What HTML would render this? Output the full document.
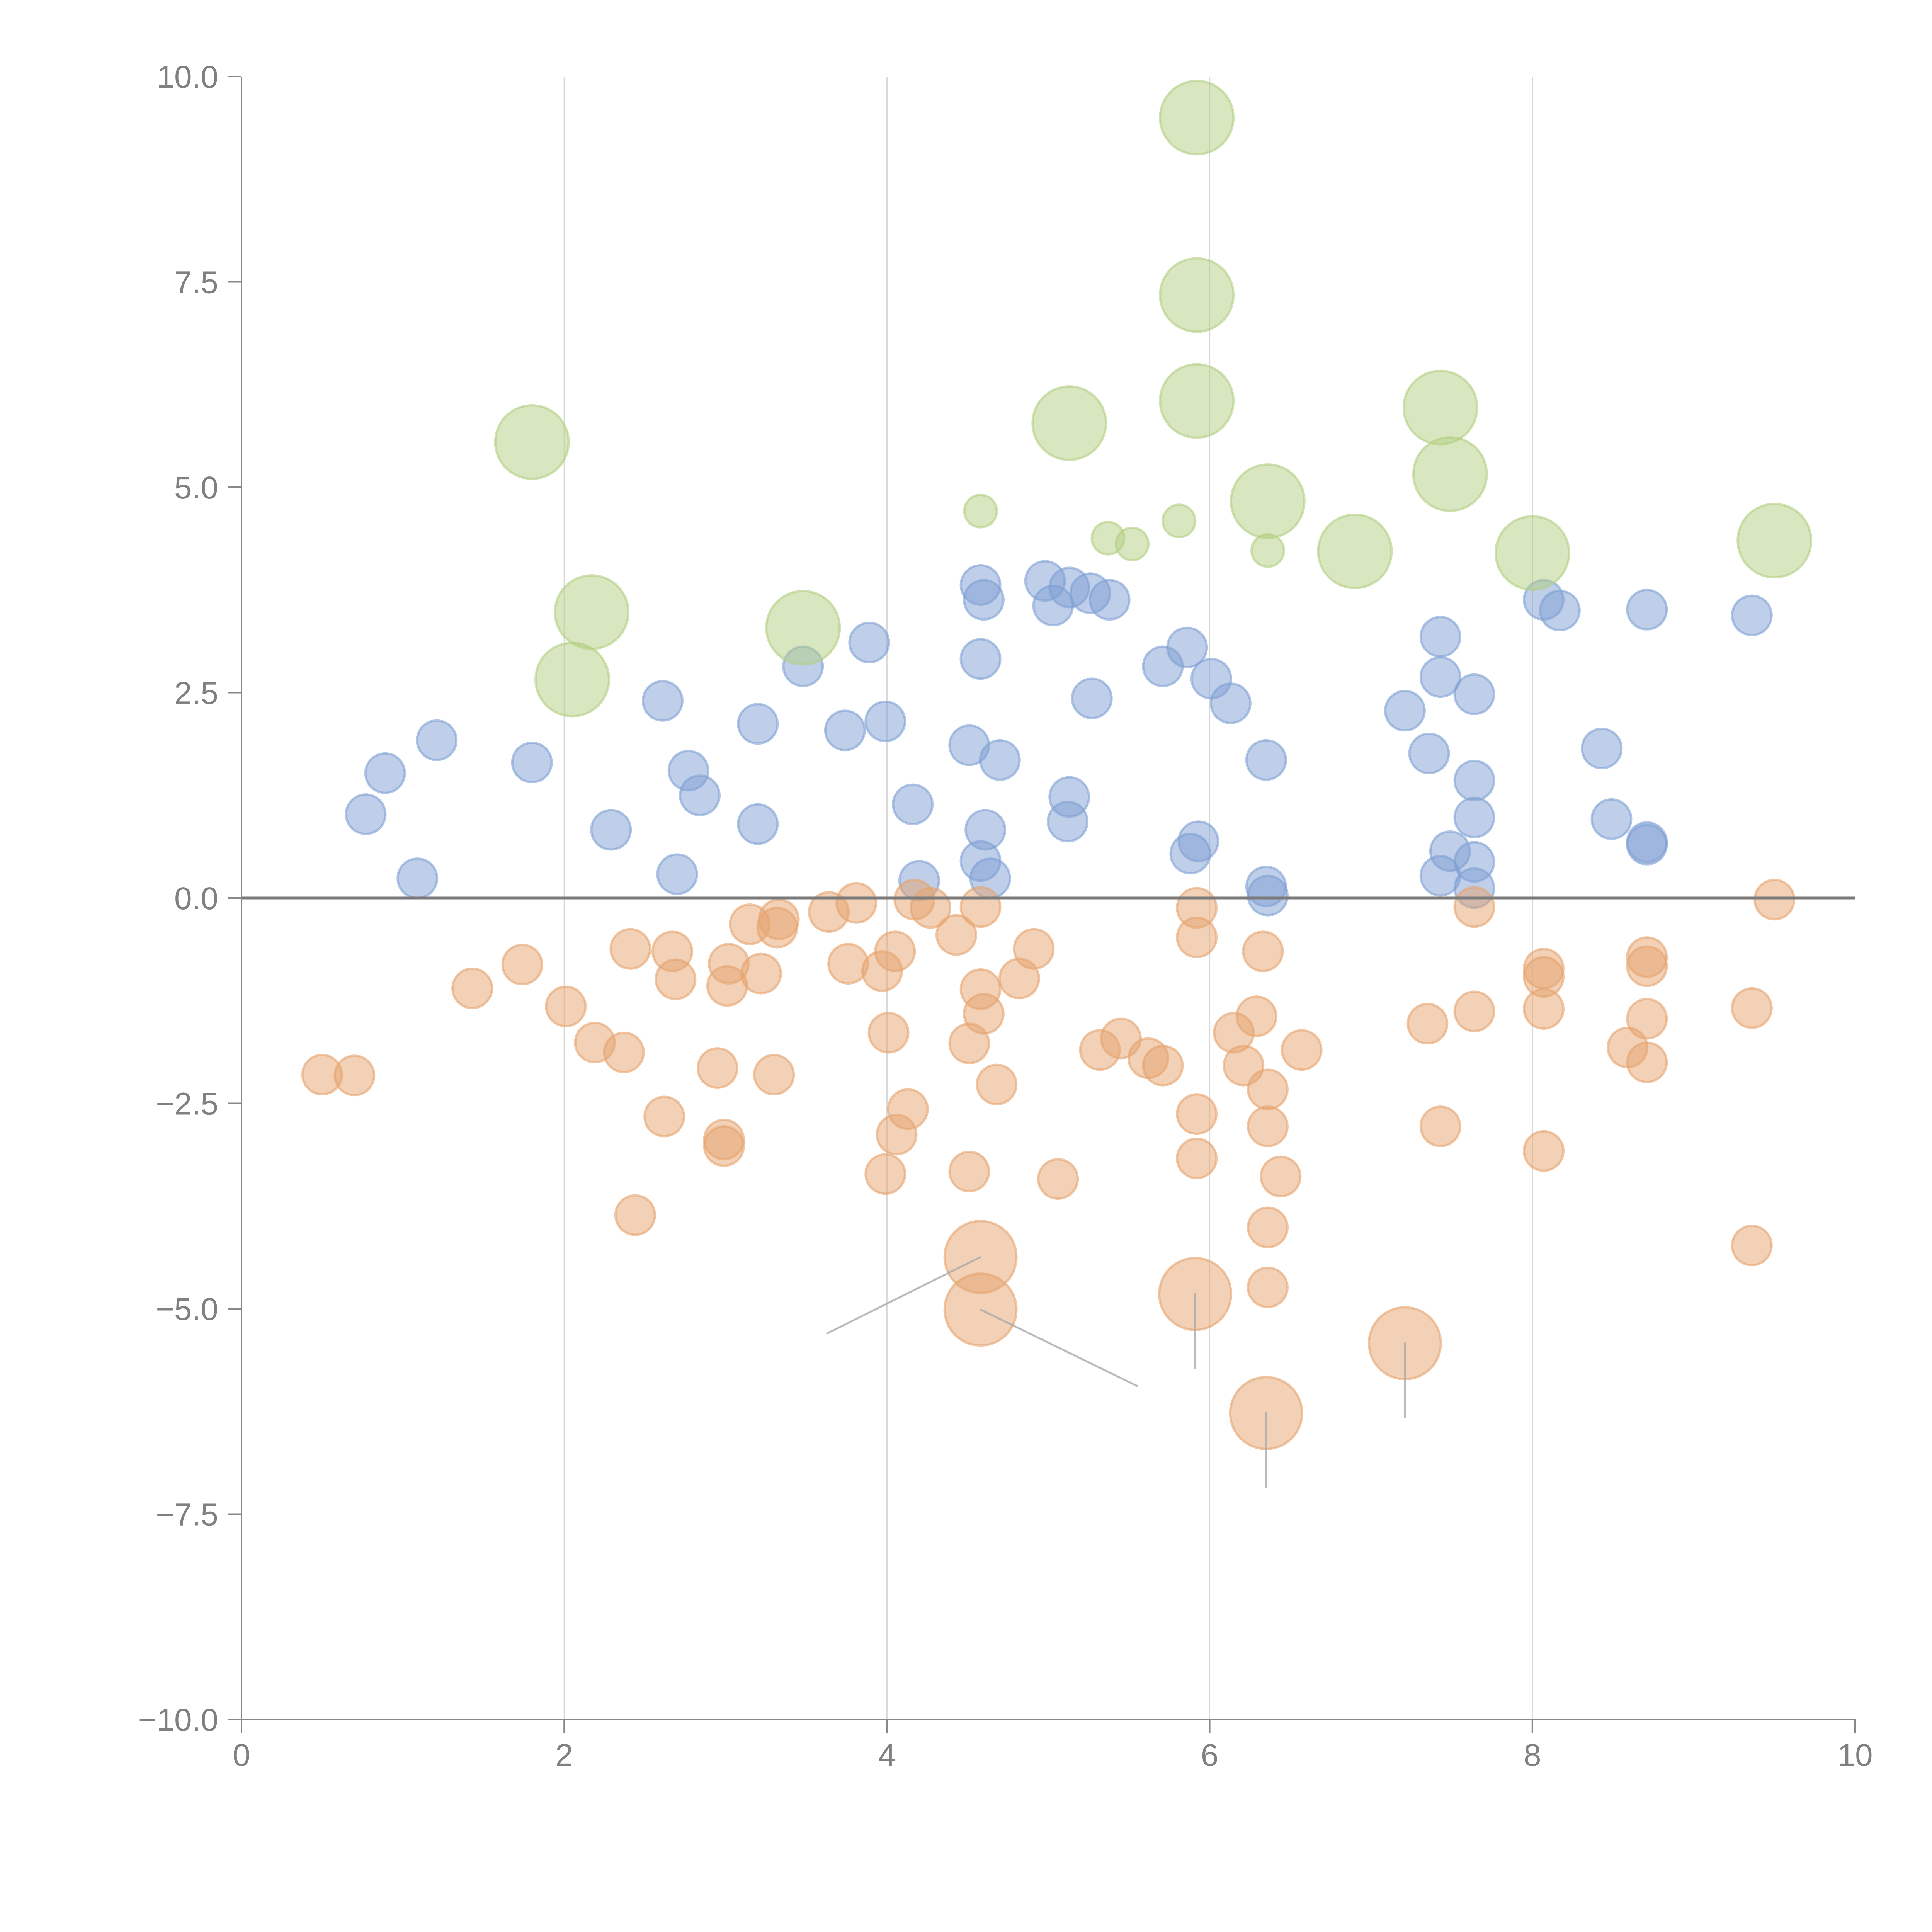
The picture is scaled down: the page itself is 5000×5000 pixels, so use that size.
<!DOCTYPE html>
<html><head><meta charset="utf-8"><style>
html,body{margin:0;padding:0;background:#fff;width:5000px;height:5000px;overflow:hidden}
svg{display:block}
text{font-family:"Liberation Sans",sans-serif;fill:#808080}
</style></head><body>
<svg id="chart" width="5000" height="5000" viewBox="0 0 5000 5000" xmlns="http://www.w3.org/2000/svg">
<g id="grid"></g>
<g id="marks"></g>
<g id="leaders"></g>
<g id="axes"></g>
</svg>
<script>
const xTicks=[0,2,4,6,8,10];
const xTickLabels=["0","2","4","6","8","10"];
const yTicks=[10,7.5,5,2.5,0,-2.5,-5,-7.5,-10];
const yTickLabels=["10.0","7.5","5.0","2.5","0.0","\u22122.5","\u22125.0","\u22127.5","\u221210.0"];
const blueX=[0.77,0.89,1.09,1.21,1.80,2.29,2.61,2.70,2.77,2.84,3.20,3.20,3.48,3.74,3.89,3.99,4.16,4.20,4.51,4.58,4.60,4.58,4.70,4.61,4.58,4.64,4.98,5.03,5.13,5.26,5.38,5.27,5.13,5.12,5.71,5.86,6.01,6.13,5.93,5.88,6.35,6.35,6.36,7.21,7.36,7.43,7.43,7.64,7.64,7.64,7.49,7.43,7.64,7.64,8.07,8.17,8.43,8.49,8.71,8.71,8.71,9.36];
const blueY=[1.02,1.52,0.24,1.92,1.65,0.83,2.40,0.29,1.55,1.25,2.12,0.90,2.82,2.04,3.11,2.15,1.14,0.21,1.86,3.81,3.63,2.91,1.68,0.83,0.45,0.24,3.86,3.56,3.78,3.71,3.63,2.43,1.23,0.93,2.82,3.05,2.67,2.37,0.69,0.54,1.68,0.14,0.03,2.28,1.76,3.18,2.69,2.48,1.43,0.98,0.57,0.27,0.44,0.12,3.63,3.50,1.82,0.96,3.51,0.68,0.65,3.44];
const orangeX=[0.50,0.70,1.43,1.74,2.01,2.19,2.37,2.41,2.44,2.62,2.67,2.69,2.95,2.99,2.99,3.02,3.01,3.15,3.22,3.30,3.33,3.32,3.64,3.81,3.76,3.97,4.05,4.01,4.13,4.06,3.99,4.17,4.27,4.43,4.58,4.58,4.60,4.51,4.68,4.51,4.82,4.91,5.06,5.32,5.45,5.62,5.71,5.92,5.92,5.92,5.92,6.33,6.29,6.15,6.21,6.36,6.36,6.44,6.36,6.36,6.57,7.35,7.43,7.64,7.64,8.07,8.07,8.07,8.07,8.59,8.71,8.71,8.71,8.71,9.36,9.36,9.50];
const orangeY=[-2.15,-2.16,-1.10,-0.81,-1.32,-1.76,-1.88,-0.62,-3.86,-2.66,-0.65,-0.99,-2.07,-2.94,-3.02,-0.80,-1.07,-0.32,-0.92,-2.15,-0.26,-0.36,-0.17,-0.06,-0.80,-0.89,-0.65,-1.64,-2.57,-2.88,-3.36,-0.02,-0.12,-0.45,-0.11,-1.11,-1.41,-1.77,-2.27,-3.33,-0.98,-0.62,-3.42,-1.85,-1.71,-1.95,-2.04,-0.12,-0.48,-2.63,-3.17,-0.65,-1.44,-1.64,-2.04,-2.33,-2.78,-3.39,-4.01,-4.74,-1.85,-1.53,-2.78,-0.11,-1.38,-0.86,-0.96,-1.35,-3.08,-1.82,-0.72,-0.83,-1.47,-2.00,-1.34,-4.23,-0.02];
const orangeBigX=[4.58,4.58,5.91,7.21,6.35];
const orangeBigY=[-4.37,-5.01,-4.82,-5.42,-6.27];
const greenX=[4.58,5.37,5.52,5.81,6.36];
const greenY=[4.71,4.38,4.31,4.59,4.23];
const greenBigX=[5.92,5.92,5.92,1.80,5.13,7.43,7.49,6.36,6.90,8.00,9.50,2.17,3.48,2.05];
const greenBigY=[9.50,7.34,6.05,5.55,5.78,5.97,5.16,4.83,4.22,4.20,4.35,3.48,3.29,2.66];
const leaderDX=[-0.95,0.97,0,0,0];
const leaderDY=[-0.93,-0.93,-0.9,-0.9,-0.9];

const X0=625,X1=4801,Y0=198,Y1=4450;
const sx=v=>X0+(v-0)/(10-0)*(X1-X0);
const sy=v=>Y0+(10-v)/20*(Y1-Y0);
const NS="http://www.w3.org/2000/svg";
function mk(tag,parent,attrs){const e=document.createElementNS(NS,tag);for(const k in attrs)e.setAttribute(k,attrs[k]);parent.appendChild(e);return e;}
const grid=document.getElementById('grid'),marks=document.getElementById('marks'),axes=document.getElementById('axes'),leaders=document.getElementById('leaders');

[2,4,6,8].forEach(v=>{
  const l=mk('line',grid,{x1:sx(v),x2:sx(v),y1:Y0,y2:Y1,stroke:'#d8d8d8','stroke-width':3});
  
  
});

function dots(xs,ys,r,fill,stroke,name){
  xs.forEach((x,i)=>{
    const c=mk('circle',marks,{cx:sx(x),cy:sy(ys[i]),r:r,fill:fill,'fill-opacity':0.5,stroke:stroke,'stroke-opacity':0.6,'stroke-width':6});
    
    
  });
}
dots(blueX,blueY,51,'#7fa0d4','#7fa0d4','blue-point');
dots(orangeX,orangeY,51,'#e6a36e','#e6a36e','orange-point');
dots(greenX,greenY,42,'#b3cf82','#b3cf82','green-point');
dots(greenBigX,greenBigY,95,'#b3cf82','#b3cf82','green-bubble');
dots(orangeBigX,orangeBigY,93,'#e6a36e','#e6a36e','orange-bubble');

orangeBigX.forEach((x,i)=>{
  const y=orangeBigY[i];
  const l=mk('line',leaders,{x1:sx(x),y1:sy(y),x2:sx(x+leaderDX[i]),y2:sy(y+leaderDY[i]),stroke:'#aaaaaa','stroke-opacity':0.8,'stroke-width':5,'stroke-linecap':'round'});
  
  
});

const z=mk('line',axes,{x1:X0,x2:X1,y1:sy(0),y2:sy(0),stroke:'#7a7a7a','stroke-width':7});


const ya=mk('line',axes,{x1:X0,x2:X0,y1:Y0,y2:Y1,stroke:'#888','stroke-width':4});


const xa=mk('line',axes,{x1:X0,x2:X1,y1:Y1,y2:Y1,stroke:'#888','stroke-width':4});



yTicks.forEach((v,i)=>{
  const t=mk('line',axes,{x1:X0-34,x2:X0,y1:sy(v),y2:sy(v),stroke:'#888','stroke-width':4});
  
  
  const tx=mk('text',axes,{x:X0-60,y:sy(v)+29,'text-anchor':'end','font-size':82});
  tx.textContent=yTickLabels[i];
  
  
});
xTicks.forEach((v,i)=>{
  const t=mk('line',axes,{x1:sx(v),x2:sx(v),y1:Y1,y2:Y1+34,stroke:'#888','stroke-width':4});
  
  
  const tx=mk('text',axes,{x:sx(v),y:Y1+120,'text-anchor':'middle','font-size':82});
  tx.textContent=xTickLabels[i];
  
  
});
</script>
</body></html>
